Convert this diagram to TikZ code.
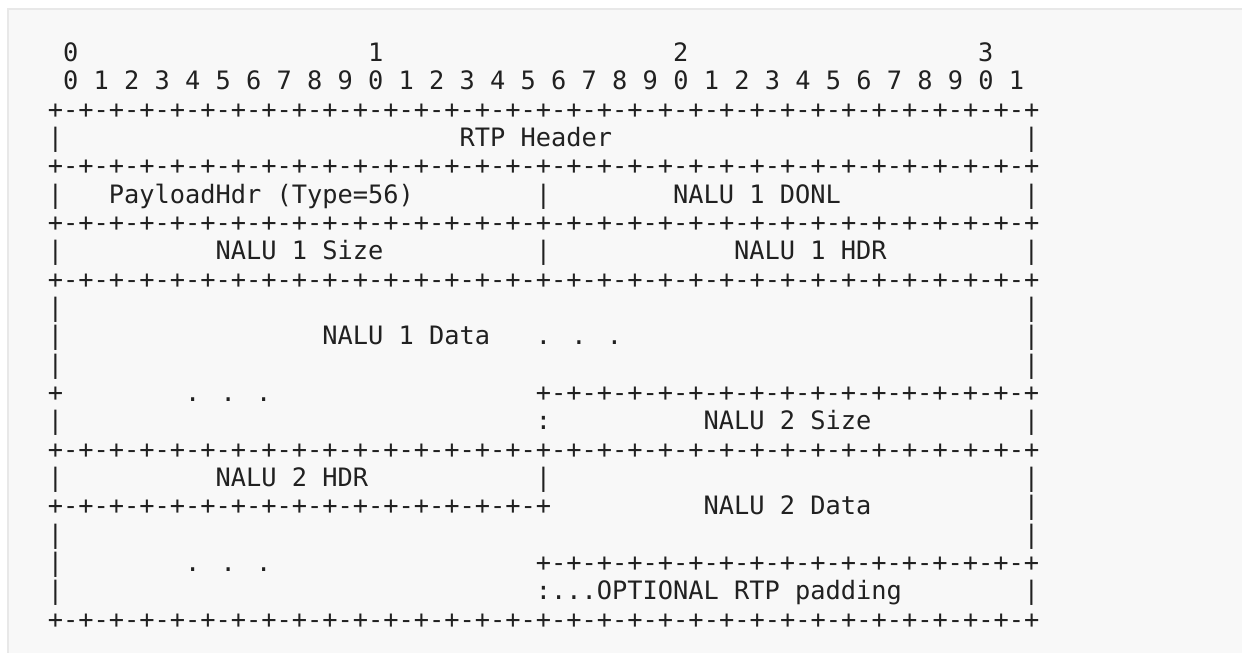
\documentclass[tikz,border=0pt]{standalone}
\usepackage{fontspec}
\usepackage{xcolor}
\usepackage{tikz}

\newfontfamily\asciifont{DejaVu Sans Mono}
\definecolor{panelbg}{HTML}{F8F8F8}
\definecolor{paneledge}{HTML}{E8E8E8}
\definecolor{ink}{HTML}{212121}

\newcommand{\halfrule}{+-+-+-+-+-+-+-+-+-+-+-+-+-+-+-+-+}
\newcommand{\fullrule}{+-+-+-+-+-+-+-+-+-+-+-+-+-+-+-+-\halfrule}

\tikzset{
  asc/.style={font={\asciifont\fontsize{12.67pt}{15pt}\selectfont}, text=ink, inner sep=0pt, anchor=base west},
  panel/.style={fill=panelbg},
  edge/.style={draw=paneledge, line width=1pt},
}

\begin{document}
\begin{tikzpicture}[x=0.5pt,y=-0.5pt]
\useasboundingbox (0,0) rectangle (1242,653);
\fill[panel] (7.5,8.5) rectangle (1242,653);
\draw[edge] (7.5,653) |- (1242,8.5);
%% columns of characters, rows of text
\begin{scope}[shift={(47.4,33.3)},x=7.625pt,y=-14.165pt]
\node[asc] (oct0) at (1,1) {0};
\node[asc] (oct1) at (21,1) {1};
\node[asc] (oct2) at (41,1) {2};
\node[asc] (oct3) at (61,1) {3};
\node[asc] (bits) at (1,2) {0 1 2 3 4 5 6 7 8 9 0 1 2 3 4 5 6 7 8 9 0 1 2 3 4 5 6 7 8 9 0 1};
%%
\node[asc] (rule3) at (0,3) {\fullrule};
\node[asc] (l4) at (0,4) {|};
\node[asc] (rtp) at (27,4) {RTP Header};
\node[asc] (r4) at (64,4) {|};
\node[asc] (rule5) at (0,5) {\fullrule};
%%
\node[asc] (l6) at (0,6) {|};
\node[asc] (plhdr) at (4,6) {PayloadHdr (Type=56)};
\node[asc] (m6) at (32,6) {|};
\node[asc] (donl1) at (41,6) {NALU 1 DONL};
\node[asc] (r6) at (64,6) {|};
\node[asc] (rule7) at (0,7) {\fullrule};
%%
\node[asc] (l8) at (0,8) {|};
\node[asc] (size1) at (11,8) {NALU 1 Size};
\node[asc] (m8) at (32,8) {|};
\node[asc] (hdr1) at (45,8) {NALU 1 HDR};
\node[asc] (r8) at (64,8) {|};
\node[asc] (rule9) at (0,9) {\fullrule};
%%
\node[asc] (l10) at (0,10) {|};
\node[asc] (r10) at (64,10) {|};
\node[asc] (l11) at (0,11) {|};
\node[asc] (data1) at (18,11) {NALU 1 Data};
\node[asc] (dots11) at (32,11) {. . .};
\node[asc] (r11) at (64,11) {|};
\node[asc] (l12) at (0,12) {|};
\node[asc] (r12) at (64,12) {|};
%%
\node[asc] (l13) at (0,13) {+};
\node[asc] (dots13) at (9,13) {. . .};
\node[asc] (rule13) at (32,13) {\halfrule};
\node[asc] (l14) at (0,14) {|};
\node[asc] (m14) at (32,14) {:};
\node[asc] (size2) at (43,14) {NALU 2 Size};
\node[asc] (r14) at (64,14) {|};
\node[asc] (rule15) at (0,15) {\fullrule};
%%
\node[asc] (l16) at (0,16) {|};
\node[asc] (hdr2) at (11,16) {NALU 2 HDR};
\node[asc] (m16) at (32,16) {|};
\node[asc] (r16) at (64,16) {|};
\node[asc] (rule17) at (0,17) {\halfrule};
\node[asc] (data2) at (43,17) {NALU 2 Data};
\node[asc] (r17) at (64,17) {|};
\node[asc] (l18) at (0,18) {|};
\node[asc] (r18) at (64,18) {|};
%%
\node[asc] (l19) at (0,19) {|};
\node[asc] (dots19) at (9,19) {. . .};
\node[asc] (rule19) at (32,19) {\halfrule};
\node[asc] (l20) at (0,20) {|};
\node[asc] (pad) at (32,20) {:...OPTIONAL RTP padding};
\node[asc] (r20) at (64,20) {|};
\node[asc] (rule21) at (0,21) {\fullrule};
\end{scope}
\end{tikzpicture}
\end{document}
